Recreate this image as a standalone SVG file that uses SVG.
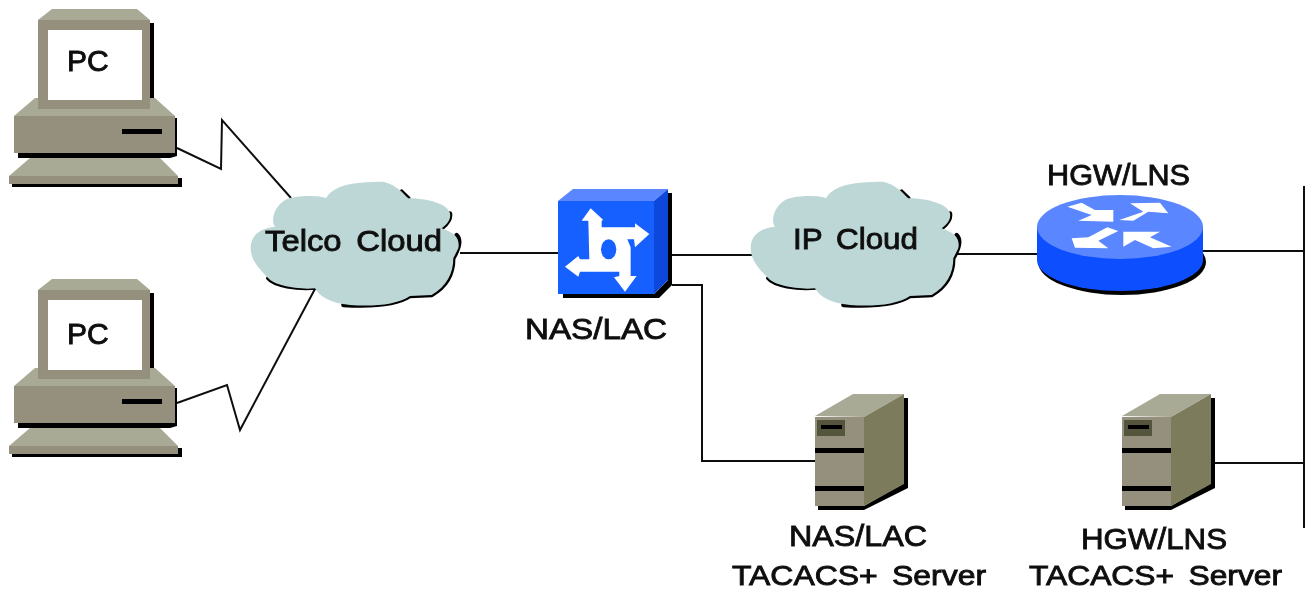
<svg xmlns="http://www.w3.org/2000/svg" xmlns:xlink="http://www.w3.org/1999/xlink" width="1305" height="591" viewBox="0 0 1305 591">
<style>
.t{font-family:"Liberation Sans",Arial,sans-serif;font-size:30px;fill:#111;stroke:#111;stroke-width:.9;word-spacing:5px}
.s{font-size:28px}
.w{fill:none;stroke:#111;stroke-width:2}
.k{fill:#000}
.g1{fill:#a9aa96}.g2{fill:#95907e}.g3{fill:#7c7c5c}.g4{fill:#55553c}
.c{fill:#bdd6d6}
.cs{fill:none;stroke:#000;stroke-width:13;stroke-linecap:round}
.b1{fill:#5a86ff}.b2{fill:#1660ff}.b3{fill:#0b46dc}.b4{fill:#0a50ff}
.wh{fill:#fff}
</style>
<defs>
<filter id="soft" x="0" y="0" width="100%" height="100%"><feGaussianBlur stdDeviation="0.5"/></filter>
<g id="pc">
<path class="k" d="M150 23H154V98H150Z"/>
<path class="g1" d="M38 20L52 9H137L150 20Z"/>
<path class="g1" d="M14 116L35 98H155L175 116Z"/>
<rect class="g2" x="38" y="20" width="112" height="89"/>
<rect class="wh" x="48" y="30" width="94" height="70"/>
<path class="k" d="M18 153H175V118H177V156L170 158H18Z"/>
<rect class="g2" x="14" y="116" width="161" height="37"/>
<rect class="k" x="122" y="129" width="40" height="5"/>
<path class="k" d="M12 184H178V178H182V187H12Z"/>
<path class="g1" d="M9 176L30 158H160L178 176Z"/>
<rect class="g2" x="9" y="176" width="169" height="8"/>
</g>
<g id="cloudS">
<path class="cs" d="M85 325C100 345 170 360 235 352M630 130C635 155 610 170 605 175M485 65L505 85M650 195C665 210 655 240 640 265C640 310 620 350 575 375L510 378C470 405 400 410 310 405M62 285H70"/>
<path class="c" d="M32 230C35 195 60 175 105 170C90 150 105 105 140 88C170 75 240 75 258 85C280 45 340 35 430 35C470 45 490 70 505 85C570 85 625 105 630 130C635 155 610 170 605 175C650 190 660 210 655 235L640 265C640 310 620 350 575 375L510 378C470 405 400 410 330 405C270 400 240 380 225 355C170 360 100 345 85 325C60 300 30 270 32 230Z"/>
</g>
<g id="server">
<path class="k" d="M818 506H864L904 483V398H908V488L864 510H818Z"/>
<path class="g1" d="M815 416L853 394H904L864 417Z"/>
<path class="g3" d="M864 417L904 394V484L864 506Z"/>
<rect class="g2" x="815" y="417" width="49" height="89"/>
<rect class="g4" x="817" y="420" width="28" height="16"/>
<rect class="k" x="821" y="425" width="21" height="4"/>
<rect class="k" x="815" y="448" width="49" height="5"/>
<rect class="k" x="815" y="486" width="49" height="5"/>
</g>
</defs>
<g filter="url(#soft)">
<rect width="1305" height="591" fill="#fff"/>
<g id="connectors" class="w">
<path d="M177 148L221 169L222 120L291 198"/>
<path d="M177 403L227 385L240 430L316 287"/>
<path d="M460 253H558"/>
<path d="M672 255H752"/>
<path d="M672 285H702V461H815"/>
<path d="M957 254H1037"/>
<path d="M1203 251H1304"/>
<path d="M1304 186V528"/>
<path d="M1213 463H1304"/>
</g>
<g id="pc1"><use xlink:href="#pc"/><text class="t" x="67" y="71">PC</text></g>
<g id="pc2"><use xlink:href="#pc" y="270"/><text class="t" x="67" y="344">PC</text></g>
<g id="telco-cloud">
<use xlink:href="#cloudS" transform="translate(240,170) scale(.3333)"/>
<text class="t" x="265" y="251" textLength="177" lengthAdjust="spacingAndGlyphs">Telco Cloud</text>
</g>
<g id="nas-lac">
<path class="k" d="M563 294H654L668 280V193H672V285L659 298H563Z"/>
<path class="b1" d="M558 201L573 189H668L654 201Z"/>
<path class="b3" d="M654 201L668 189V280L654 294Z"/>
<rect class="b2" x="558" y="201" width="96" height="93"/>
<g transform="translate(520,170) scale(.3333)">
<path class="wh" d="M212 115L250 150L245 152V172H345V160L388 192L345 232L342 208H322L332 232V318H350L315 365L282 322L298 318V305H180L175 320L135 290L175 258L180 268H208L205 152H185Z"/>
<ellipse class="b2" cx="266" cy="238" rx="23" ry="30"/>
</g>
<text class="t" x="525" y="339" textLength="142" lengthAdjust="spacingAndGlyphs">NAS/LAC</text>
</g>
<g id="ip-cloud">
<use xlink:href="#cloudS" transform="translate(740,170) scale(.3333)"/>
<text class="t" x="793" y="249" textLength="125" lengthAdjust="spacingAndGlyphs">IP Cloud</text>
</g>
<g id="hgw-lns">
<text class="t" x="1047" y="185" textLength="143" lengthAdjust="spacingAndGlyphs">HGW/LNS</text>
<ellipse class="k" cx="1122" cy="262" rx="84" ry="33"/>
<path class="b4" d="M1037 227V260A83 31 0 0 0 1203 260V227Z"/>
<ellipse class="b1" cx="1120" cy="227" rx="83" ry="32"/>
<g transform="translate(1020,150) scale(.3333)">
<path class="wh" d="M142 170L185 158L225 180L280 180L280 215L175 212L215 195Z"/>
<path class="wh" d="M298 210L370 185L330 160L420 158L445 190L385 185L340 212Z"/>
<path class="wh" d="M155 265L205 262L262 232L295 243L235 272L265 295L165 293Z"/>
<path class="wh" d="M310 245L420 245L390 262L455 290L400 295L345 270L310 290Z"/>
</g>
</g>
<g id="nas-server">
<use xlink:href="#server"/>
<text class="t" x="789" y="546" textLength="138" lengthAdjust="spacingAndGlyphs">NAS/LAC</text>
<text class="t s" x="732" y="585" textLength="254" lengthAdjust="spacingAndGlyphs">TACACS+ Server</text>
</g>
<g id="hgw-server">
<use xlink:href="#server" x="307"/>
<text class="t" x="1081" y="549" textLength="146" lengthAdjust="spacingAndGlyphs">HGW/LNS</text>
<text class="t s" x="1029" y="585" textLength="253" lengthAdjust="spacingAndGlyphs">TACACS+ Server</text>
</g>
</g>
</svg>
